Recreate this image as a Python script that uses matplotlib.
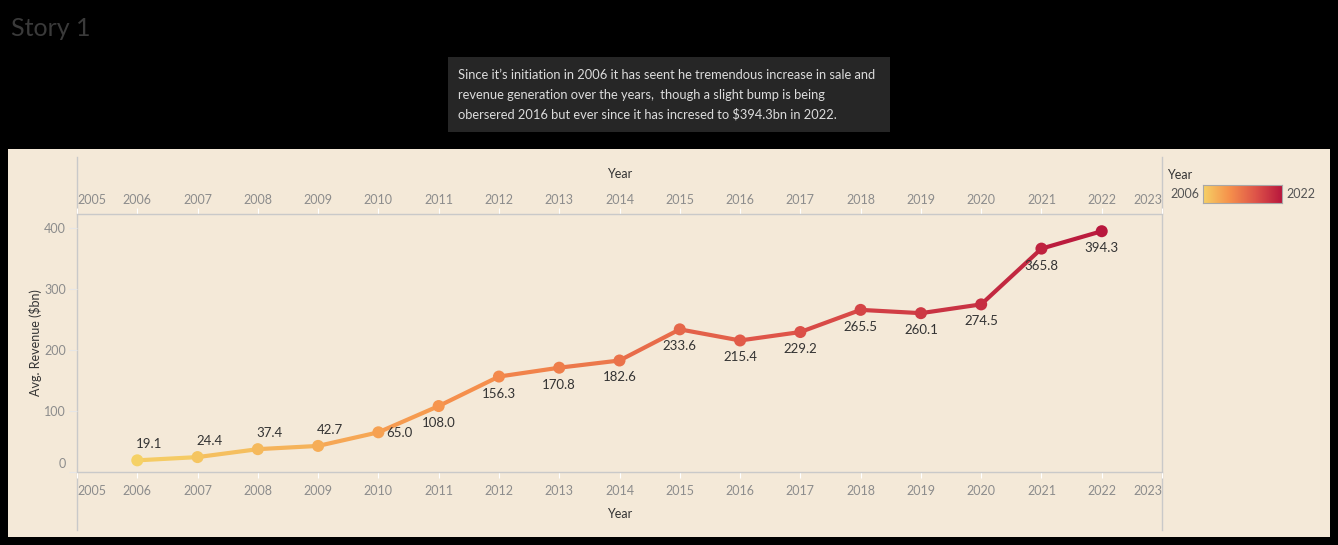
import numpy as np
import matplotlib
matplotlib.use('Agg')
import matplotlib.pyplot as plt
from matplotlib.colors import LinearSegmentedColormap, Normalize
from matplotlib.collections import LineCollection
from matplotlib.lines import Line2D
from matplotlib.patches import Rectangle
import matplotlib.transforms as mtrans

plt.rcParams['font.family'] = ['Lato', 'DejaVu Sans']

# data
years = [2006, 2007, 2008, 2009, 2010, 2011, 2012, 2013, 2014,
         2015, 2016, 2017, 2018, 2019, 2020, 2021, 2022]
revenue = [19.1, 24.4, 37.4, 42.7, 65.0, 108.0, 156.3, 170.8, 182.6,
           233.6, 215.4, 229.2, 265.5, 260.1, 274.5, 365.8, 394.3]
axis_years = list(range(2005, 2024))
y_ticks = [0, 100, 200, 300, 400]
note = ("Since it\u2019s initiation in 2006 it has seent he tremendous increase in sale and\n"
        "revenue generation over the years,  though a slight bump is being\n"
        "obersered 2016 but ever since it has incresed to $394.3bn in 2022.")

W, H = 1338, 545
fig = plt.figure(figsize=(W / 100, H / 100), dpi=100, facecolor='black')

def fx(px):
    return px / W

def fy(py):
    return 1 - py / H

bg = '#f4e9d8'
grid_c = '#c9c9c9'
fig.patches.append(Rectangle((fx(8), fy(537)), fx(1330) - fx(8), fy(149) - fy(537),
                             transform=fig.transFigure, facecolor=bg, edgecolor='none', zorder=-10))

fig.text(fx(11), fy(28), 'Story 1', color='#3a3a3a', fontsize=18, va='center', ha='left')

# note box
fig.patches.append(Rectangle((fx(448), fy(132)), fx(890) - fx(448), fy(57) - fy(132),
                             transform=fig.transFigure, facecolor='#262626', edgecolor='none',
                             zorder=-10))
fig.text(fx(458), fy(95), note, color='#dcdcdc', fontsize=9.3, va='center', ha='left',
         linespacing=1.75)

cmap = LinearSegmentedColormap.from_list('sunrise', ['#f5d166', '#f6914c', '#de5449', '#b8173d'])
norm = Normalize(2006, 2022)

ax = fig.add_axes([fx(77), fy(472), fx(1162) - fx(77), fy(214) - fy(472)])
ax.set_facecolor('none')
ax.set_zorder(5)
ax.set_xlim(2005, 2023)
ax.set_ylim(0, 422.5)

x = np.array(years, dtype=float)
y = np.array(revenue)
pts = np.column_stack([x, y]).reshape(-1, 1, 2)
segs = np.concatenate([pts[:-1], pts[1:]], axis=1)
mid = (x[:-1] + x[1:]) / 2
lc = LineCollection(segs, colors=cmap(norm(mid)), linewidths=3, capstyle='round', zorder=2)
ax.add_collection(lc)
ax.scatter(x, y, s=75, c=cmap(norm(x)), zorder=3, edgecolors='none')

for xx, yy in zip(years, revenue):
    if xx <= 2009:
        off = (12, 16)
    elif xx == 2010:
        off = (21, -1)
    else:
        off = (0, -17)
    ax.annotate(f'{yy:.1f}', (xx, yy), xytext=off, textcoords='offset pixels',
                ha='center', va='center', fontsize=9.5, color='#333333')

for s in ['left', 'right']:
    ax.spines[s].set_visible(False)
for s in ['top', 'bottom']:
    ax.spines[s].set_color(grid_c)
    ax.spines[s].set_linewidth(1)

ax.set_yticks(y_ticks)
ax.set_yticklabels([str(v) for v in y_ticks])
ax.tick_params(axis='y', length=6, color='#e6e6e6', labelcolor='#8c8c8c', labelsize=9, pad=2)
# lift the 0 label like the original
lab0 = ax.get_yticklabels()[0]
lab0.set_transform(lab0.get_transform() + mtrans.ScaledTranslation(0, 9 / 100, fig.dpi_scale_trans))
ax.set_ylabel('Avg. Revenue ($bn)', fontsize=9, color='#333333', labelpad=1.5)

ax.set_xticks(axis_years)
ax.set_xticklabels([str(v) for v in axis_years])
ax.tick_params(axis='x', length=4, color='#ffffff', labelcolor='#8c8c8c', labelsize=9, pad=5.5,
               top=False, labeltop=False, bottom=True, labelbottom=True)
for lab in ax.get_xticklabels():
    if lab.get_text() == '2005':
        lab.set_ha('left')
    elif lab.get_text() == '2023':
        lab.set_ha('right')
ax.set_xlabel('Year', fontsize=9, color='#333333', labelpad=7.5)

ax2 = ax.secondary_xaxis('top')
ax2.set_xticks(axis_years)
ax2.set_xticklabels([str(v) for v in axis_years])
ax2.tick_params(axis='x', length=4, color='#ffffff', labelcolor='#8c8c8c', labelsize=9, pad=2)
ax2.spines['top'].set_visible(False)
for lab in ax2.get_xticklabels():
    if lab.get_text() == '2005':
        lab.set_ha('left')
    elif lab.get_text() == '2023':
        lab.set_ha('right')
ax2.set_xlabel('Year', fontsize=9, color='#333333', labelpad=11)

# frame lines
for px in [77, 1162]:
    fig.add_artist(Line2D([fx(px), fx(px)], [fy(157), fy(530)], transform=fig.transFigure,
                          color=grid_c, lw=1, zorder=1))

# color legend
fig.text(fx(1167), fy(175), 'Year', fontsize=9, color='#333333', va='center', ha='left')
cax = fig.add_axes([fx(1203), fy(203), fx(1282) - fx(1203), fy(185) - fy(203)])
cax.set_zorder(5)
cax.imshow(np.linspace(0, 1, 256).reshape(1, -1), aspect='auto', cmap=cmap)
cax.set_xticks([])
cax.set_yticks([])
for s in cax.spines.values():
    s.set_color('#a8a8a8')
fig.text(fx(1199), fy(194), '2006', fontsize=9, color='#555555', va='center', ha='right')
fig.text(fx(1286), fy(194), '2022', fontsize=9, color='#555555', va='center', ha='left')

fig.savefig('out.png', dpi=100, facecolor='black')
